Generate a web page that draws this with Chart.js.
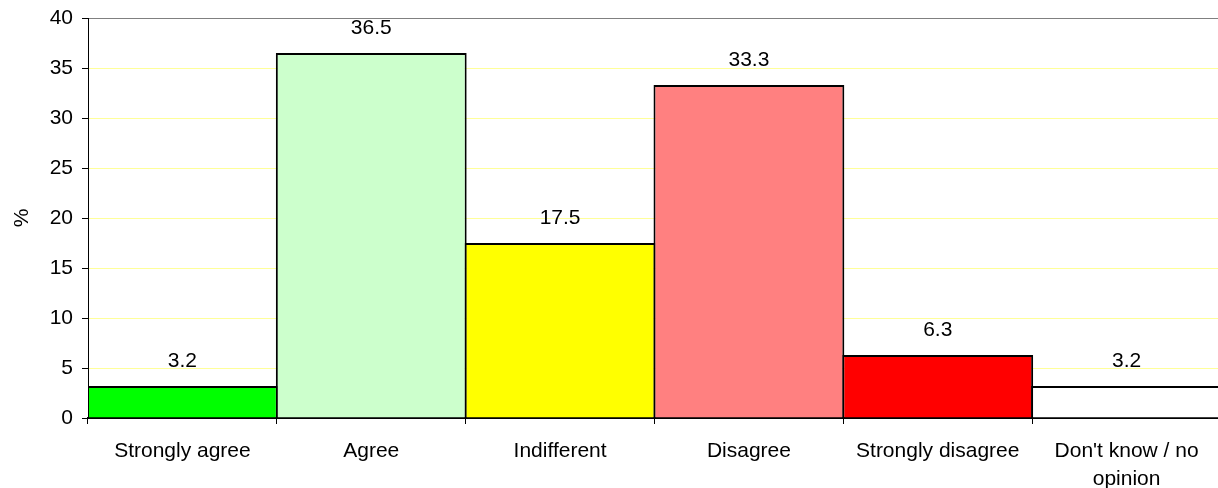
<!DOCTYPE html>
<html>
<head>
<meta charset="utf-8">
<script src="https://cdn.jsdelivr.net/npm/chart.js@4"></script>
<style>
  html, body { margin: 0; padding: 0; background: #fff; overflow: hidden; width: 1218px; height: 488px; }
  #c { display: block; }
</style>
</head>
<body>
<canvas id="c" width="1221" height="488"></canvas>
<script>
// Survey answers (percent of respondents)
const categories = ['Strongly agree', 'Agree', 'Indifferent', 'Disagree', 'Strongly disagree', ["Don't know / no", 'opinion']];
const percentages = [3.2, 36.5, 17.5, 33.3, 6.3, 3.2];
const barColors = ['#00ff00', '#ccffcc', '#ffff00', '#ff8080', '#ff0000', '#ffffff'];
const yMin = 0;
const yMax = 40;
const yStep = 5;

Chart.defaults.font.family = '"Liberation Sans", Arial, sans-serif';
Chart.defaults.font.size = 21;
Chart.defaults.color = '#000';

// Writes each bar's value just above it
const valueLabels = {
  id: 'valueLabels',
  afterDatasetsDraw(chart) {
    const ctx = chart.ctx;
    const meta = chart.getDatasetMeta(0);
    ctx.save();
    ctx.font = '21px "Liberation Sans", Arial, sans-serif';
    ctx.fillStyle = '#000';
    ctx.textAlign = 'center';
    ctx.textBaseline = 'alphabetic';
    meta.data.forEach((bar, i) => {
      ctx.fillText(percentages[i].toFixed(1), bar.x, bar.y - 19);
    });
    ctx.restore();
  }
};

new Chart(document.getElementById('c'), {
  type: 'bar',
  data: {
    labels: categories,
    datasets: [{
      data: percentages,
      backgroundColor: barColors,
      borderColor: '#000',
      borderWidth: 2,
      borderSkipped: 'start',
      // bars a touch wider than a category so neighbouring outlines share one line
      barPercentage: 1.0106,
      categoryPercentage: 1
    }]
  },
  options: {
    responsive: false,
    animation: false,
    events: [],
    layout: { padding: { top: 18, right: 0, bottom: 0, left: 0 } },
    plugins: {
      legend: { display: false },
      tooltip: { enabled: false }
    },
    scales: {
      x: {
        offset: true,
        grid: {
          offset: true,
          drawOnChartArea: false,
          drawTicks: true,
          tickLength: 6,
          tickColor: '#000',
          tickWidth: 1
        },
        border: { color: '#000', width: 2 },
        ticks: {
          padding: 14,
          maxRotation: 0,
          autoSkip: false,
          font: { size: 21, lineHeight: 1.3 }
        },
        afterFit(scale) { scale.height = 70; }
      },
      y: {
        min: yMin,
        max: yMax,
        ticks: { stepSize: yStep, padding: 9, font: { size: 21 } },
        grid: {
          color: ctx => (ctx.tick && ctx.tick.value === yMax ? '#808080' : '#ffff99'),
          lineWidth: 1,
          tickColor: '#000',
          tickLength: 6
        },
        border: { color: '#000', width: 1 },
        title: {
          display: true,
          text: '%',
          font: { size: 21 },
          padding: { top: 10, bottom: 0 }
        },
        afterFit(scale) {
          scale.width = 88;
          scale.paddingTop = 0;
          scale.paddingBottom = 0;
        }
      }
    }
  },
  plugins: [valueLabels]
});
</script>
</body>
</html>
